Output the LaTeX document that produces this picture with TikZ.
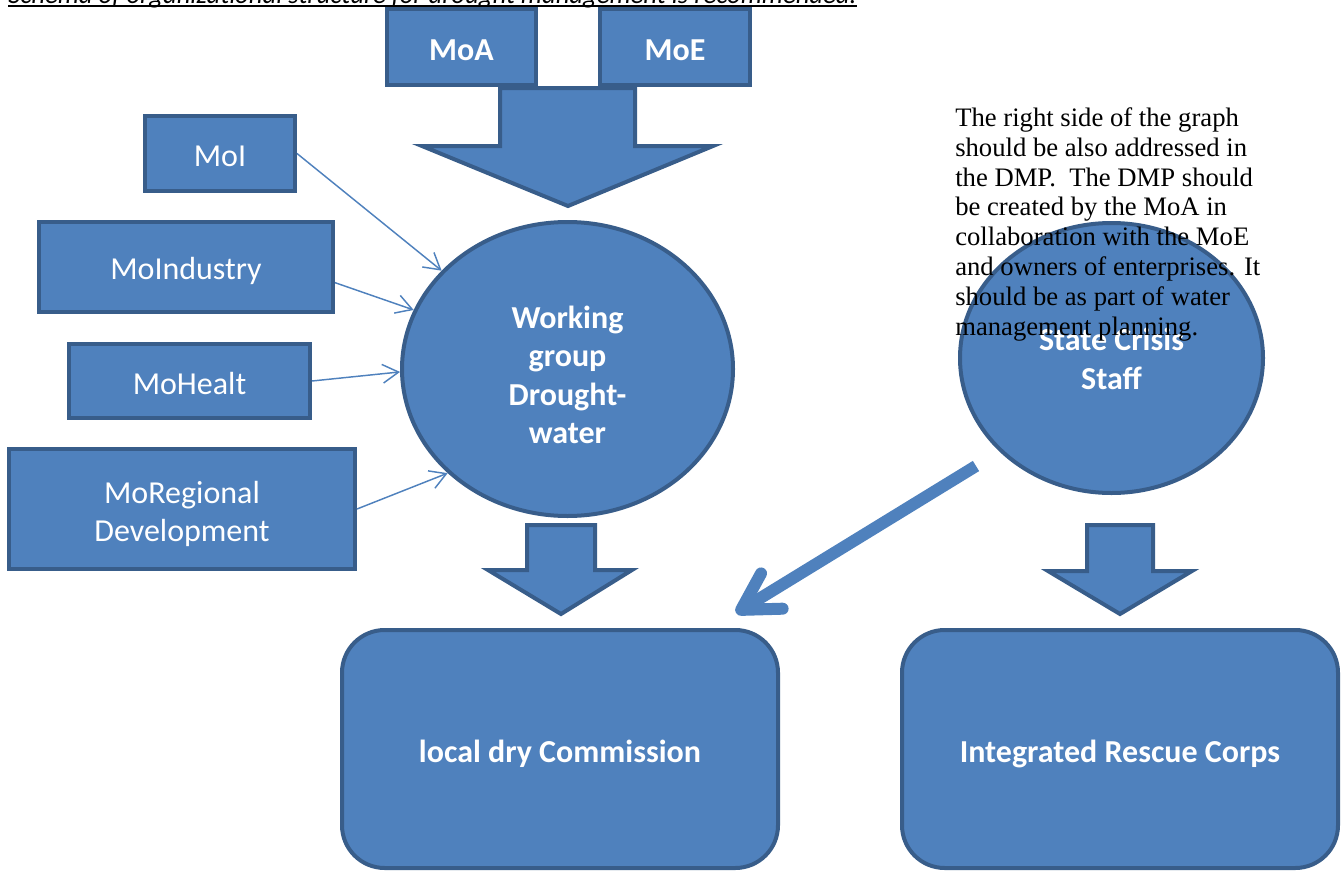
\documentclass[tikz,border=0pt]{standalone}
\usepackage{fontspec}
\setmainfont{Liberation Serif}
\newfontfamily\calfont{Carlito}
\usetikzlibrary{arrows.meta,shapes.geometric}
\definecolor{boxfill}{HTML}{4F81BD}
\definecolor{boxedge}{HTML}{385D8A}
\tikzset{
  orgbox/.style={draw=boxedge,fill=boxfill,line width=3pt,text=white,inner sep=0pt,align=center,font=\calfont\fontsize{24}{28.9}\selectfont},
  boldbox/.style={orgbox,font=\calfont\bfseries\fontsize{24}{28.9}\selectfont},
  orgell/.style={boldbox,ellipse},
  roundbox/.style={boldbox,rounded corners=32pt},
  bigarrow/.style={draw=boxedge,fill=boxfill,line width=3pt,line join=miter},
  thinarrow/.style={draw=boxfill,line width=1.1pt,-{Straight Barb[length=12pt,width=14pt]}},
  thickarrow/.style={draw=boxfill,line width=9pt,-{Straight Barb[length=27pt,width=31pt,round]}},
  notetext/.style={anchor=north west,inner sep=0pt,align=left,font=\fontsize{20}{22.35}\selectfont}
}
\begin{document}
\begin{tikzpicture}[x=0.75pt,y=-0.75pt]
\useasboundingbox (0,0) rectangle (1343,871);

% title (cut at top of page)
\node[anchor=base west,inner sep=0pt,font=\calfont\itshape\fontsize{20}{24}\selectfont] (title) at (8,3)
  {Schema of organizational structure for drought management is recommended.};
\draw[line width=1.5pt] ([yshift=-2.25pt]title.base west) -- ([yshift=-2.25pt]title.base east);

% big block arrows
\draw[bigarrow] (500,88) -- (635,88) -- (635,146) -- (713,146) -- (568,206) -- (422,146) -- (500,146) -- cycle;
\draw[bigarrow] (527,525) -- (595,525) -- (595,570) -- (632,570) -- (561,614) -- (488,570) -- (527,570) -- cycle;
\draw[bigarrow] (1087,525) -- (1153,525) -- (1153,571) -- (1192,571) -- (1120,614) -- (1048,571) -- (1087,571) -- cycle;

% top boxes
\node[boldbox,minimum width=111.75pt,minimum height=57pt] (moa) at (461.5,47) {\rule{0pt}{20pt}MoA};
\node[boldbox,minimum width=112.5pt,minimum height=57pt] (moe) at (675,47) {\rule{0pt}{20pt}MoE};

% left boxes
\node[orgbox,minimum width=112.5pt,minimum height=56.25pt] (moi) at (220,153.5) {\rule{0pt}{20pt}MoI};
\node[orgbox,minimum width=220.5pt,minimum height=67.5pt] (moind) at (186,267) {\rule{0pt}{22.8pt}MoIndustry};
\node[orgbox,minimum width=180.75pt,minimum height=55.5pt] (mohealt) at (189.5,381) {\rule{0pt}{19.8pt}MoHealt};
\node[orgbox,minimum width=259.5pt,minimum height=90pt] (moreg) at (182,509) {\rule{0pt}{24.3pt}MoRegional\\Development};

% ellipses
\node[orgell,minimum width=248.25pt,minimum height=220.5pt] (wg) at (567.5,369) {\rule{0pt}{25.8pt}Working\\group\\Drought-\\water};
\node[orgell,minimum width=227.25pt,minimum height=202.5pt] (scs) at (1111.5,358) {\rule{0pt}{18.5pt}State Crisis\\Staff};

% thin arrows
\draw[thinarrow] (moi.east) -- (wg.142);
\draw[thinarrow] (moind.-6) -- (wg.159);
\draw[thinarrow] (mohealt.east) -- (wg.181);
\draw[thinarrow] (moreg.east) -- (wg.-139);

% bottom boxes
\node[roundbox,minimum width=327pt,minimum height=178.5pt] (ldc) at (560,749) {\rule{0pt}{24.3pt}local dry Commission};
\node[roundbox,minimum width=327pt,minimum height=178.5pt] (irc) at (1120,749) {\rule{0pt}{24.3pt}Integrated Rescue Corps};

% thick diagonal arrow
\coordinate (thickstart) at (976,466);
\coordinate (thickend) at (736,613);
\draw[thickarrow] (thickstart) -- (thickend);

% note text
\node[notetext] (note) at (955,107.5) {The right side of the graph\\should be also addressed in\\the DMP.\ \ The DMP should\\be created by the MoA in\\collaboration with the MoE\\and owners of enterprises. It\\should be as part of water\\management planning.};
\end{tikzpicture}
\end{document}
